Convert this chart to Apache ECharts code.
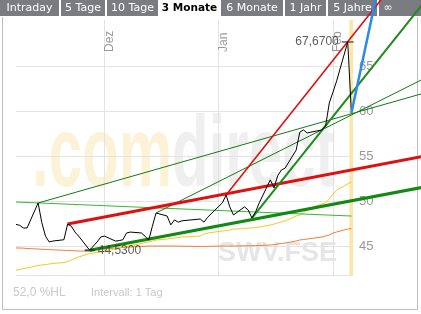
<!DOCTYPE html>
<html><head><meta charset="utf-8">
<script src="https://cdn.jsdelivr.net/npm/echarts@6/dist/echarts.min.js"></script>
<style>html,body{margin:0;padding:0;background:#fff}#c{width:421px;height:314px}</style>
</head><body><div id="c"></div>
<script>
// ---------- data ----------
const dates = [
'2006-11-07','2006-11-08','2006-11-09','2006-11-10',
'2006-11-13','2006-11-14','2006-11-15','2006-11-16','2006-11-17',
'2006-11-20','2006-11-21','2006-11-22','2006-11-23','2006-11-24',
'2006-11-27','2006-11-28','2006-11-29','2006-11-30','2006-12-01',
'2006-12-04','2006-12-05','2006-12-06','2006-12-07','2006-12-08',
'2006-12-11','2006-12-12','2006-12-13','2006-12-14','2006-12-15',
'2006-12-18','2006-12-19','2006-12-20','2006-12-21','2006-12-22',
'2006-12-27','2006-12-28','2006-12-29',
'2007-01-02','2007-01-03','2007-01-04','2007-01-05',
'2007-01-08','2007-01-09','2007-01-10','2007-01-11','2007-01-12',
'2007-01-15','2007-01-16','2007-01-17','2007-01-18','2007-01-19',
'2007-01-22','2007-01-23','2007-01-24','2007-01-25','2007-01-26',
'2007-01-29','2007-01-30','2007-01-31','2007-02-01','2007-02-02',
'2007-02-05','2007-02-06'];
const prices = [
47.4,47.3,47.0,47.0,
49.78,47.6,46.1,45.45,45.55,
45.7,47.44,47.2,46.55,46.1,
44.53,45.0,45.45,46.0,46.1,
45.55,45.6,45.7,46.45,46.55,
46.45,46.1,45.65,47.2,48.67,
48.33,47.35,47.9,47.65,47.8,
48.0,47.65,48.2,
49.8,50.67,49.35,48.45,
49.35,49.0,48.11,48.8,49.8,
52.35,51.45,52.8,53.45,53.65,
55.65,57.65,57.9,57.55,57.65,
57.9,58.35,60.9,62.1,63.35,
67.67,59.78];
const maShort = [
42.33,42.39,42.5,42.56,
42.83,42.89,42.94,43.0,43.06,
43.17,43.28,43.44,43.61,43.78,
44.17,44.22,44.28,44.33,44.44,
44.67,44.78,44.89,44.94,45.06,
45.28,45.39,45.44,45.56,45.67,
45.78,45.83,45.89,45.94,46.0,
46.11,46.33,46.44,
46.67,46.72,46.78,46.89,
46.94,47.0,47.0,47.06,47.11,
47.33,47.44,47.56,47.67,47.78,
48.33,48.44,48.67,49.0,49.22,
49.67,49.78,50.22,50.78,51.22,
51.89,52.11];
const maLong = [
44.78,44.78,44.76,44.72,
44.67,44.64,44.62,44.6,44.58,
44.52,44.5,44.49,44.47,44.44,
44.44,44.5,44.61,44.67,44.67,
44.78,44.8,44.83,44.87,44.89,
44.94,44.97,45.0,45.0,45.0,
45.0,45.0,45.0,44.99,44.98,
44.95,44.95,44.96,
45.0,45.0,45.0,45.0,
45.02,45.03,45.04,45.05,45.06,
45.11,45.15,45.22,45.28,45.33,
45.56,45.67,45.72,45.78,45.83,
46.0,46.11,46.22,46.44,46.56,
46.89,46.94];
// trend lines: [date, value] anchor pairs
const trendLowRed    = [['2006-11-21',47.44],['2007-02-27',55.08]];
const trendLowGreen  = [['2006-11-27',44.53],['2007-02-27',51.65]];
const trendSteepRed  = [['2007-01-03',50.67],['2007-02-15',72.86]];
const trendSteepGreen= [['2007-01-10',48.11],['2007-02-27',72.73]];
const trendThinA     = [['2006-11-13',49.78],['2007-02-27',62.14]];
const trendThinB     = [['2006-12-15',48.67],['2007-02-27',63.87]];
const trendFlat      = [['2006-11-07',49.89],['2007-02-06',48.33]];
const trendBlue      = [['2007-02-06',59.78],['2007-02-13',73.2]];
const monthTicks  = ['2006-12-01','2007-01-01','2007-02-01'];
const monthLabels = ['Dez','Jan','Feb'];
const yTicks = [45,50,55,60,65];
const yMin = 41.78, yMax = 70.11;
const tabs = ['Intraday','5 Tage','10 Tage','3 Monate','6 Monate','1 Jahr','5 Jahre','\u221E'];
const activeTab = 3;
const symbolText = 'SWV.FSE';
const infoLeft = '52,0 %HL';
const infoRight = 'Intervall: 1 Tag';

// ---------- helpers ----------
const DAY = 86400000;
function ts(s){const p=s.split('-').map(Number);return Date.UTC(p[0],p[1]-1,p[2]);}
const T = dates.map(ts);
const pair = (a)=>a.map(p=>[ts(p[0]),p[1]]);
const fmt = v=>v.toFixed(4).replace('.',',');
const hiIdx = prices.indexOf(Math.max(...prices));
const loIdx = prices.indexOf(Math.min(...prices));
const xMin = T[0], xMax = T[T.length-1] + 0.43*DAY;
const monthT = monthTicks.map(ts);

// ---------- layout ----------
const W = 421, H = 314;
const G = {left:16, right:68, top:20, bottom:39};
const pxPerX = (W-G.left-G.right)/(xMax-xMin);
const pxPerY = (H-G.top-G.bottom)/(yMax-yMin);
// overlay grid covering the whole canvas, same scales, so trend lines run past the plot
const x2Min = xMin - G.left/pxPerX, x2Max = xMax + G.right/pxPerX;
const y2Max = yMax + G.top/pxPerY;

const tabBoxes = [[0,59],[61,105],[107,158],[160,219],[221,283],[285,326],[328,377],[379,421]];
const graphics = [];
tabBoxes.forEach((b,i)=>{
  const active = i===activeTab;
  graphics.push({type:'rect',z:-20,shape:{x:b[0],y:0,width:b[1]-b[0],height:16},
    style:{fill: active?'#ffffff':'#7b7b82'}});
  const cx = i===tabs.length-1 ? 388 : (b[0]+b[1])/2;
  graphics.push({type:'text',z:-19,x:cx,y:8.5,style:{text:tabs[i],
    font:(active?'bold 10.5px':'11px')+' "DejaVu Sans"',fill:active?'#000':'#fff',
    textAlign:'center',align:'center',textVerticalAlign:'middle',verticalAlign:'middle'}});
});
graphics.push({type:'polyline',z:-20,shape:{points:[[2.5,17],[2.5,309.5],[417.5,309.5],[417.5,17]]},
  style:{stroke:'#bdbdbd',fill:null,lineWidth:1}});
graphics.push({type:'text',z:-15,x:32,y:158,scaleY:1.68,style:{text:'.com',
  font:'bold 60px "Liberation Sans"',fill:'#fcf2d7',textVerticalAlign:'middle',verticalAlign:'middle'}});
graphics.push({type:'text',z:-15,x:172,y:158,scaleY:1.68,style:{text:'direct',
  font:'bold 60px "Liberation Sans"',fill:'#efefef',textVerticalAlign:'middle',verticalAlign:'middle'}});
graphics.push({type:'text',z:-15,x:218,y:254,style:{text:symbolText,
  font:'bold 27px "Liberation Sans"',fill:'#e6e6e6',textVerticalAlign:'middle',verticalAlign:'middle'}});
graphics.push({type:'text',x:13,y:293,style:{text:infoLeft,font:'12px "Liberation Sans"',fill:'#c8c8c8',
  textVerticalAlign:'middle',verticalAlign:'middle'}});
graphics.push({type:'text',x:91,y:293,style:{text:infoRight,font:'11px "Liberation Sans"',fill:'#c8c8c8',
  textVerticalAlign:'middle',verticalAlign:'middle'}});

function trend(data,color,width,z){
  return {type:'line',data:pair(data),xAxisIndex:1,yAxisIndex:1,symbol:'none',silent:true,z:z||3,
    lineStyle:{color:color,width:width},itemStyle:{color:color}};
}

const chart = echarts.init(document.getElementById('c'),null,{renderer:'canvas'});
chart.setOption({
  animation:false,
  backgroundColor:'#ffffff',
  grid:[{left:G.left,right:G.right,top:G.top,bottom:G.bottom,containLabel:false},
        {left:0,right:0,top:0,bottom:G.bottom,containLabel:false}],
  xAxis:[{type:'value',gridIndex:0,min:xMin,max:xMax,
    axisLine:{show:false},
    axisTick:{show:false,customValues:monthT},
    splitLine:{show:true,lineStyle:{color:'#e3e3e3',width:1}},
    axisLabel:{show:false}},
    {type:'value',gridIndex:1,min:x2Min,max:x2Max,show:false}],
  yAxis:[{type:'value',gridIndex:0,position:'right',min:yMin,max:yMax,
    axisLine:{show:false},
    axisTick:{show:false,customValues:[yMin].concat(yTicks)},
    splitLine:{show:true,lineStyle:{color:'#e3e3e3',width:1}},
    axisLabel:{customValues:yTicks,margin:6,color:'#999',fontSize:13,fontFamily:'Liberation Sans'}},
    {type:'value',gridIndex:1,min:yMin,max:y2Max,show:false}],
  series:[
    {type:'line',data:T.map((t,i)=>[t,maLong[i]]),symbol:'none',silent:true,z:2,
      lineStyle:{color:'#ee8038',width:1}},
    {type:'line',data:T.map((t,i)=>[t,maShort[i]]),symbol:'none',silent:true,z:2,
      lineStyle:{color:'#f5c820',width:1}},
    trend(trendFlat,'#35b835',1,3),
    trend(trendThinA,'#137a13',1,3),
    trend(trendThinB,'#137a13',1,3),
    trend(trendLowRed,'#e01010',3,4),
    trend(trendLowGreen,'#108a10',3,4),
    trend(trendSteepRed,'#e01010',1.6,4),
    trend(trendSteepGreen,'#1f8a1f',2,4),
    {type:'line',data:T.map((t,i)=>[t,prices[i]]),symbol:'none',silent:true,z:5,
      lineStyle:{color:'#000',width:1},
      markArea:{silent:true,itemStyle:{color:'#fbe6a6'},
        data:[[{xAxis:T[T.length-1]-0.55*DAY},{xAxis:T[T.length-1]+0.55*DAY}]]}},
    trend(trendBlue,'#2a8ce6',2.5,6),
    {type:'scatter',silent:true,z:7,symbol:'rect',symbolSize:[12,1.2],itemStyle:{color:'#111'},
      data:[[T[hiIdx],prices[hiIdx]]],
      label:{show:true,position:'left',distance:3,formatter:p=>fmt(p.value[1]),color:'#333',fontSize:12,fontFamily:'Liberation Sans'}},
    {type:'scatter',silent:true,z:7,symbol:'rect',symbolSize:[10,2],itemStyle:{color:'#1a3a1a'},
      data:[[T[loIdx],prices[loIdx]]],
      label:{show:true,position:'right',distance:3,formatter:p=>fmt(p.value[1]),color:'#333',fontSize:12,fontFamily:'Liberation Sans'}}
  ]
});
// month labels: rotated text placed at the axis positions of the month starts
monthT.forEach((t,i)=>{
  const px = chart.convertToPixel({xAxisIndex:0}, t);
  graphics.push({type:'text',z:1,x:px-1,y:52,rotation:Math.PI/2,style:{text:monthLabels[i],
    font:'12px "Liberation Sans"',fill:'#9a9a9a',textAlign:'left',align:'left',
    textVerticalAlign:'top',verticalAlign:'top'}});
});
chart.setOption({graphic:graphics});
</script></body></html>
